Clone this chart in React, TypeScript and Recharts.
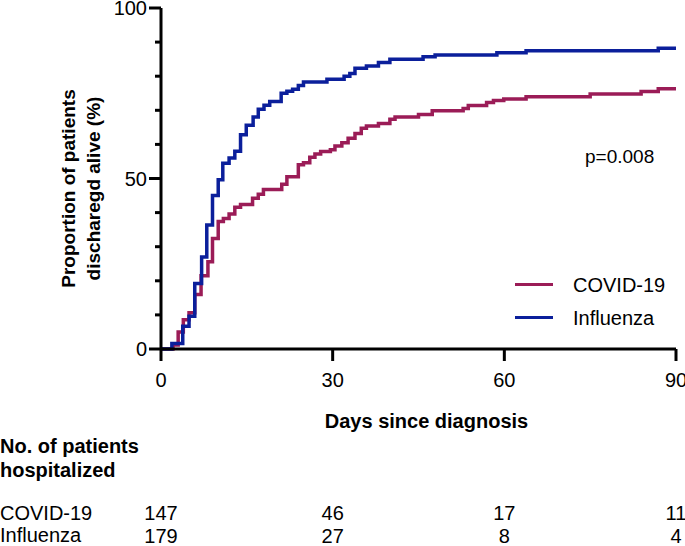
import React from 'react';
import { LineChart, Line, XAxis, YAxis, Legend } from 'recharts';

const FONT = '"Liberation Sans", Arial, Helvetica, sans-serif';

const xTicks = [0, 30, 60, 90];
const yTicks = [0, 10, 20, 30, 40, 50, 60, 70, 80, 90, 100];
const yLabelTicks = [0, 50, 100];

const covidAtRisk = [147, 46, 17, 11];
const fluAtRisk = [179, 27, 8, 4];

const covidDays = [0, 2.1, 3.0, 3.9, 4.9, 5.9, 7.0, 8.2, 9.0, 10.0, 10.9, 11.9, 12.9, 13.9, 16.0, 17.0, 17.9, 21.1, 22.0, 24.0, 24.9, 26.0, 26.9, 27.9, 29.6, 30.4, 31.6, 32.7, 33.9, 35.0, 35.9, 38.0, 40.0, 40.9, 45.0, 47.4, 52.8, 53.7, 56.9, 58.1, 59.9, 63.8, 75.0, 83.9, 86.9, 90];
const covidPct = [0, 1.2, 5.0, 8.6, 10.6, 16, 21.5, 25.6, 32.4, 37.4, 38.3, 39.6, 41.6, 42.4, 44.2, 45.4, 46.8, 48.3, 50.5, 54.0, 54.6, 56.2, 57.2, 57.9, 58.4, 59.5, 60.5, 61.8, 63.2, 64.7, 65.4, 66.1, 67.4, 68.0, 68.8, 69.9, 70.5, 71.4, 72.3, 72.9, 73.3, 74.0, 74.8, 75.5, 76.3, 76.3];

const fluDays = [0, 1.9, 3.8, 4.9, 5.9, 7.1, 8.0, 9.0, 10.0, 10.8, 11.9, 12.9, 13.9, 14.9, 16.1, 17.0, 18.0, 19.0, 21.0, 22.0, 23.0, 24.0, 24.9, 29.0, 32.0, 33.0, 33.9, 35.9, 38.0, 40.0, 45.8, 47.9, 58.7, 63.8, 86.9, 90];
const fluPct = [0, 1.6, 6.7, 9.6, 19.2, 27.0, 36.4, 45.0, 49.6, 54.5, 56.0, 58.0, 62.8, 65.6, 68.0, 70.3, 71.5, 72.6, 75.0, 75.6, 76.2, 77.3, 78.3, 79.1, 80.0, 80.8, 82.3, 83.0, 84.0, 85.0, 85.7, 86.2, 86.9, 87.5, 88.2, 88.2];

const covidData = covidDays.map((d, i) => ({ day: d, pct: covidPct[i] }));
const fluData = fluDays.map((d, i) => ({ day: d, pct: fluPct[i] }));

const RED = '#9B1C57';
const BLUE = '#0B1F9B';

const YTick = (props: any) => {
  const { x, y, payload } = props;
  const major = yLabelTicks.includes(payload.value);
  return (
    <g>
      <line x1={x - (major ? 12 : 6)} x2={x} y1={y} y2={y} stroke="#000" strokeWidth={3} />
      {major && (
        <text x={x - 14} y={y} dy="0.36em" textAnchor="end" fontSize={20} fontFamily={FONT} fill="#000">
          {payload.value}
        </text>
      )}
    </g>
  );
};

// x tick: axis label plus the numbers-at-risk rows below it, all placed by the axis scale
const XTick = (props: any) => {
  const { x, y, payload } = props;
  const idx = xTicks.indexOf(payload.value);
  const common = { x, textAnchor: 'middle' as const, fontSize: 20, fontFamily: FONT, fill: '#000' };
  return (
    <g>
      <text {...common} y={y + 9} dy="0.36em">{payload.value}</text>
      <text {...common} y={y + 142} dy="0.36em">{covidAtRisk[idx]}</text>
      <text {...common} y={y + 165} dy="0.36em">{fluAtRisk[idx]}</text>
    </g>
  );
};

const YTitle = (props: any) => {
  const vb = props.viewBox || { x: 0, y: 0, width: 0, height: 0 };
  const cy = vb.y + vb.height / 2 + 10;
  const x1 = vb.x + 68;
  const x2 = vb.x + 93;
  return (
    <g>
      <text x={x1} y={cy} dy="0.36em" textAnchor="middle" transform={`rotate(-90, ${x1}, ${cy})`} fontSize={19} fontWeight="bold" fontFamily={FONT} fill="#000">
        Proportion of patients
      </text>
      <text x={x2} y={cy} dy="0.36em" textAnchor="middle" transform={`rotate(-90, ${x2}, ${cy})`} fontSize={19} fontWeight="bold" fontFamily={FONT} fill="#000">
        discharegd alive (%)
      </text>
    </g>
  );
};

const XTitle = (props: any) => {
  const vb = props.viewBox || { x: 0, y: 0, width: 0, height: 0 };
  return (
    <text x={vb.x + vb.width / 2 + 8} y={vb.y + 72} dy="0.36em" textAnchor="middle" fontSize={20} fontWeight="bold" fontFamily={FONT} fill="#000">
      Days since diagnosis
    </text>
  );
};

const LegendContent = (props: any) => {
  const { payload } = props;
  return (
    <div style={{ fontFamily: FONT }}>
      {(payload || []).map((p: any, i: number) => (
        <div key={i} style={{ display: 'flex', alignItems: 'center', height: 33 }}>
          <div style={{ width: 38, height: 3.5, background: p.color, marginRight: 20 }} />
          <span style={{ fontSize: 20, color: '#000', lineHeight: '20px' }}>{p.value}</span>
        </div>
      ))}
    </div>
  );
};

const textStyle: React.CSSProperties = {
  position: 'absolute',
  fontFamily: FONT,
  fontSize: 20,
  lineHeight: '20px',
  color: '#000',
  whiteSpace: 'nowrap',
};

export default function App() {
  return (
    <div style={{ position: 'absolute', left: 0, top: 0, width: 685, height: 546, background: '#fff', overflow: 'hidden' }}>
      <LineChart width={685} height={546} margin={{ top: 8, right: 9, bottom: 0, left: 0 }}>
        <XAxis
          xAxisId="main"
          type="number"
          dataKey="day"
          domain={[0, 90]}
          ticks={xTicks}
          interval={0}
          height={197}
          tickSize={12}
          tickMargin={10}
          axisLine={{ stroke: '#000', strokeWidth: 3 }}
          tickLine={{ stroke: '#000', strokeWidth: 3 }}
          tick={<XTick />}
          label={<XTitle />}
        />
        <YAxis
          type="number"
          domain={[0, 100]}
          ticks={yTicks}
          interval={0}
          width={161}
          tickSize={0}
          tickMargin={0}
          axisLine={{ stroke: '#000', strokeWidth: 3 }}
          tickLine={false}
          tick={<YTick />}
          label={<YTitle />}
        />
        <Legend
          verticalAlign="middle"
          align="center"
          layout="horizontal"
          wrapperStyle={{ position: 'absolute', left: 515, top: 268, width: 170 }}
          content={<LegendContent />}
        />
        <Line
          xAxisId="main"
          data={covidData}
          dataKey="pct"
          name="COVID-19"
          type="stepAfter"
          stroke={RED}
          strokeWidth={3.5}
          dot={false}
          activeDot={false}
          isAnimationActive={false}
        />
        <Line
          xAxisId="main"
          data={fluData}
          dataKey="pct"
          name="Influenza"
          type="stepAfter"
          stroke={BLUE}
          strokeWidth={3.5}
          dot={false}
          activeDot={false}
          isAnimationActive={false}
        />
      </LineChart>
      <div style={{ ...textStyle, left: 585, top: 147, fontSize: 19 }}>p=0.008</div>
      <div style={{ ...textStyle, left: 0, top: 436, fontWeight: 'bold' }}>No. of patients</div>
      <div style={{ ...textStyle, left: 0, top: 460, fontWeight: 'bold' }}>hospitalized</div>
      <div style={{ ...textStyle, left: 0, top: 503 }}>COVID-19</div>
      <div style={{ ...textStyle, left: 0, top: 525 }}>Influenza</div>
    </div>
  );
}
